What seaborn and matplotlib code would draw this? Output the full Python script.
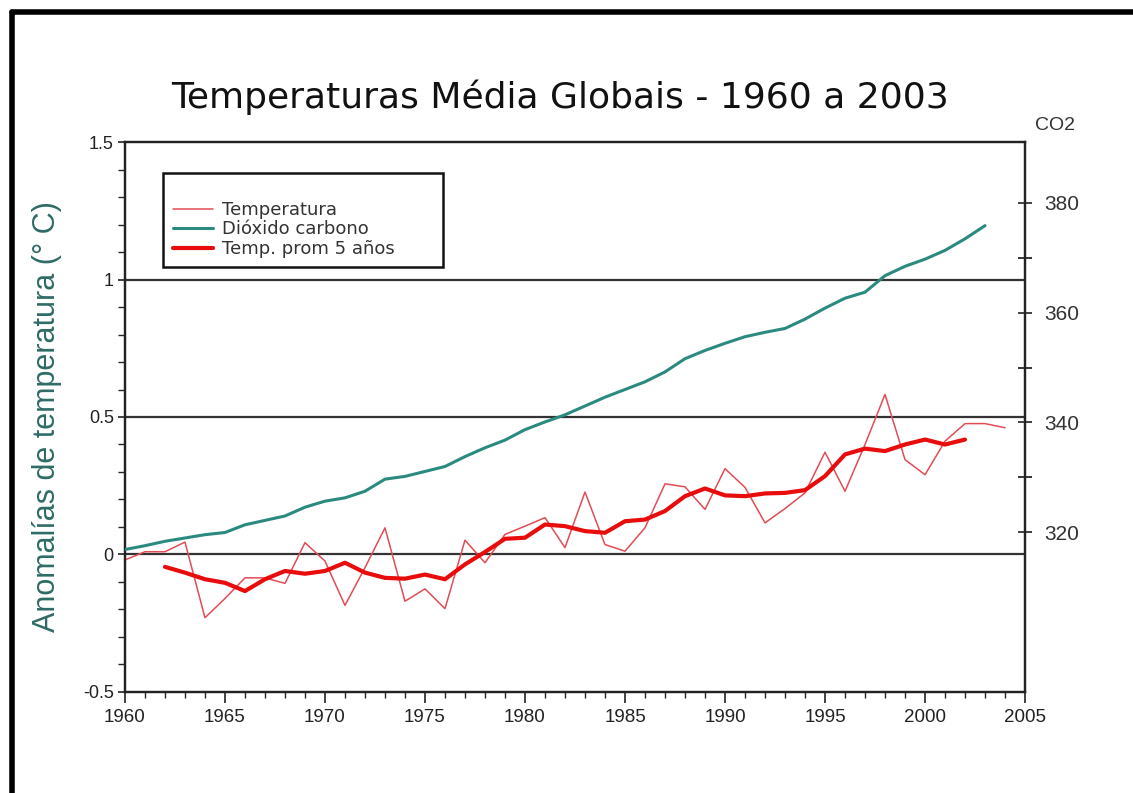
import matplotlib
matplotlib.use("Agg")
import matplotlib.pyplot as plt
import matplotlib.ticker as mticker
from matplotlib.lines import Line2D
from matplotlib.patches import Rectangle
import pandas as pd
import seaborn as sns

# datos
years = list(range(1960, 2005))
temperatura = [-0.02, 0.01, 0.01, 0.045, -0.23, -0.16, -0.085, -0.085, -0.105, 0.043,
               -0.024, -0.185, -0.048, 0.097, -0.17, -0.125, -0.197, 0.052, -0.03, 0.073,
               0.103, 0.134, 0.025, 0.227, 0.036, 0.012, 0.097, 0.257, 0.246, 0.164,
               0.312, 0.244, 0.115, 0.167, 0.224, 0.372, 0.23, 0.40, 0.582, 0.345,
               0.29, 0.412, 0.476, 0.476, 0.461]

years_prom = list(range(1962, 2003))
temp_prom5 = [-0.045, -0.066, -0.09, -0.103, -0.133, -0.09, -0.06, -0.07, -0.06, -0.03,
              -0.066, -0.085, -0.088, -0.073, -0.09, -0.036, 0.009, 0.057, 0.061, 0.109,
              0.103, 0.085, 0.079, 0.121, 0.127, 0.158, 0.212, 0.24, 0.215, 0.212,
              0.222, 0.224, 0.234, 0.285, 0.364, 0.385, 0.376, 0.40, 0.418, 0.40, 0.418]

years_co2 = list(range(1960, 2004))
co2 = [316.9, 317.6, 318.4, 319.0, 319.6, 320.0, 321.4, 322.2, 323.0, 324.6,
       325.7, 326.3, 327.5, 329.7, 330.2, 331.1, 332.0, 333.8, 335.4, 336.8,
       338.7, 340.1, 341.4, 343.0, 344.6, 346.0, 347.4, 349.2, 351.6, 353.1,
       354.4, 355.6, 356.4, 357.1, 358.8, 360.8, 362.6, 363.7, 366.7, 368.4,
       369.7, 371.3, 373.4, 375.8]

ref_lines = [0, 0.5, 1]
x_ticks = list(range(1960, 2006, 5))
left_ticks = [-0.5, 0, 0.5, 1, 1.5]
left_labels = ["-0.5", "0", "0.5", "1", "1.5"]
co2_ticks = [320, 340, 360, 380]
co2_minor = [330, 350, 370]

df_t = pd.DataFrame({"year": years, "temp": temperatura})
df_p = pd.DataFrame({"year": years_prom, "temp": temp_prom5})
df_c = pd.DataFrame({"year": years_co2, "co2": co2})

sns.set_style("ticks")
plt.rcParams['font.family'] = ['Liberation Sans', 'DejaVu Sans']

fig = plt.figure(figsize=(11.33, 7.93), dpi=100)
ax = fig.add_axes([0.1103, 0.1274, 0.7944, 0.6935])

c_thin = "#e24c55"
c_thick = "#e80c0c"
c_co2 = "#2b8a80"

for v in ref_lines:
    ax.axhline(v, color="#333333", lw=1.6, zorder=1)

sns.lineplot(data=df_t, x="year", y="temp", ax=ax, color=c_thin, lw=1.1,
             label="Temperatura", legend=False, zorder=3)
sns.lineplot(data=df_p, x="year", y="temp", ax=ax, color=c_thick, lw=3.0,
             label="Temp. prom 5 años", legend=False, zorder=4)

ax.set_xlim(1960, 2005)
ax.set_ylim(-0.5, 1.5)
ax.set_xticks(x_ticks)
ax.xaxis.set_minor_locator(mticker.MultipleLocator(1))
ax.set_yticks(left_ticks)
ax.set_yticklabels(left_labels)
ax.yaxis.set_minor_locator(mticker.MultipleLocator(0.1))
ax.tick_params(axis="x", which="major", direction="out", length=8, width=1.2,
               labelsize=13.5, colors="#222222", pad=4)
ax.tick_params(axis="x", which="minor", direction="out", length=4, width=1.0)
ax.tick_params(axis="y", which="major", direction="inout", length=10, width=1.2,
               labelsize=13, colors="#222222", pad=3)
ax.tick_params(axis="y", which="minor", direction="out", length=5, width=1.0)
ax.set_xlabel("")
ax.set_ylabel("Anomalías de temperatura (° C)", fontsize=22, color="#2f6b66")
ax.yaxis.set_label_coords(-0.07, 0.5)
for s in ax.spines.values():
    s.set_color("#222222")
    s.set_linewidth(1.6)

ax2 = ax.twinx()
sns.lineplot(data=df_c, x="year", y="co2", ax=ax2, color=c_co2, lw=2.2,
             label="Dióxido carbono", legend=False, zorder=3)
ax2.set_ylim(291, 391)
ax2.set_yticks(co2_ticks)
ax2.yaxis.set_minor_locator(mticker.FixedLocator(co2_minor))
ax2.tick_params(axis="y", which="major", direction="inout", length=10, width=1.3,
                labelsize=15, colors="#333333", pad=9)
ax2.tick_params(axis="y", which="minor", direction="inout", length=10, width=1.3)
ax2.set_ylabel("")
for s in ax2.spines.values():
    s.set_color("#222222")
    s.set_linewidth(1.6)

# leyenda con caja propia (más espacio arriba que abajo)
box = Rectangle((163 / 1133, 1 - 267 / 793), 280 / 1133, 94 / 793,
                transform=fig.transFigure, fill=True, facecolor="white",
                edgecolor="#111111", lw=1.8, zorder=9)
ax2.add_artist(box)
box.set_clip_on(False)

handles = [Line2D([], [], color=c_thin, lw=1.1),
           Line2D([], [], color=c_co2, lw=2.2),
           Line2D([], [], color=c_thick, lw=3.0)]
labels = ["Temperatura", "Dióxido carbono", "Temp. prom 5 años"]
leg = ax2.legend(handles, labels, loc="upper left",
                 bbox_to_anchor=(173 / 1133, 1 - 201 / 793),
                 bbox_transform=fig.transFigure,
                 prop={"family": "DejaVu Sans", "size": 13}, frameon=False,
                 handlelength=2.2, handletextpad=0.5, labelspacing=0.08,
                 borderpad=0, borderaxespad=0)
for t in leg.get_texts():
    t.set_color("#333333")
leg.set_zorder(10)

fig.text(0.494, 0.877, "Temperaturas Média Globais - 1960 a 2003", ha="center",
         va="center", fontsize=26, family="DejaVu Sans", color="#111111")
fig.text(0.931, 0.842, "CO2", ha="center", va="center", fontsize=14, color="#333333")

# marco exterior
fig.add_artist(Line2D([0.0105, 1.0], [0.985, 0.985], color="black", lw=4,
                      transform=fig.transFigure))
fig.add_artist(Line2D([0.0105, 0.0105], [0.0, 0.985], color="black", lw=4,
                      transform=fig.transFigure))

fig.savefig("out.png", dpi=100)
